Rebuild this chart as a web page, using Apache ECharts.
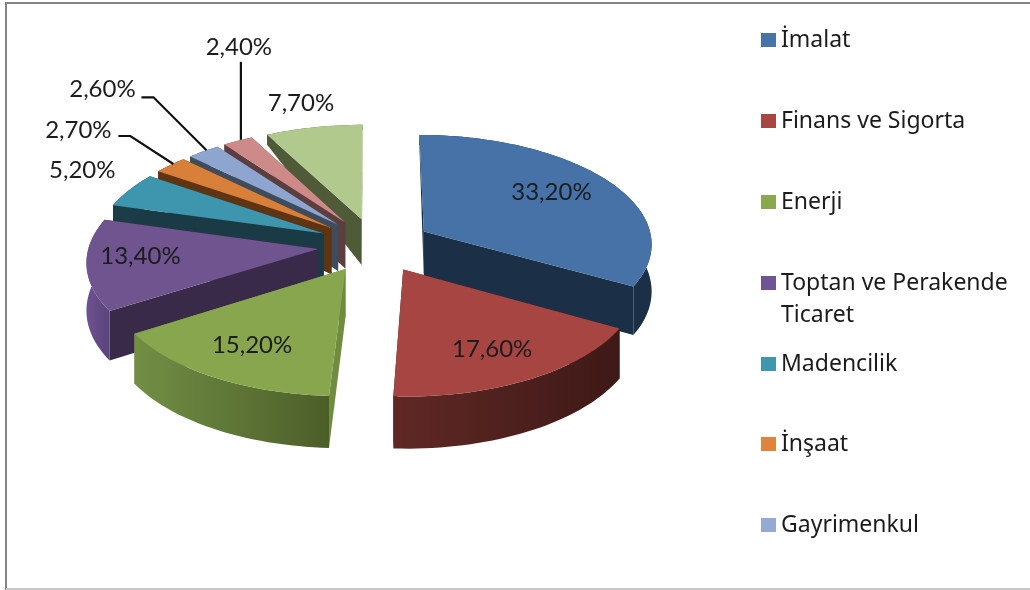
<!DOCTYPE html>
<html><head><meta charset="utf-8">
<style>html,body{margin:0;padding:0;background:#fff}#c{width:1030px;height:590px}</style>
<script src="https://cdn.jsdelivr.net/npm/echarts@6/dist/echarts.min.js"></script>
</head><body><div id="c"></div>
<script>
// ---- data ----
const categories = ['İmalat','Finans ve Sigorta','Enerji','Toptan ve Perakende Ticaret','Madencilik','İnşaat','Gayrimenkul','Diğer A','Diğer B'];
const values = [33.2,17.6,15.2,13.4,5.2,2.7,2.6,2.4,7.7];
const valueLabels = ['33,20%','17,60%','15,20%','13,40%','5,20%','2,70%','2,60%','2,40%','7,70%'];
const legendCount = 7;

// ---- styles ----
const topColors  = ['#4672A8','#A64542','#87A64D','#6F5490','#3E95AE','#D8803A','#8DA5CF','#CD8A89','#B2C98E'];
const keyColors  = ['#4674A9','#A94543','#8AA84E','#6F5495','#4096AF','#E0843C','#95A9D2','#CD8A89','#B2C98E'];
const faceColors = ['#1B2F47','#43191A','#6F8C40','#3A2A4A','#1A3B46','#5F3412','#3F4C5E','#5C3E3E','#4F5A38'];
const rimColors  = [['#1B2F47','#1B2F47'],['#602825','#3E1917'],['#728F45','#4C5E29'],['#6E5290','#59437A'],['#1C3D47','#1C3D47'],['#5F3412','#5F3412'],['#3F4C5E','#3F4C5E'],['#5C3E3E','#5C3E3E'],['#4F5A38','#4F5A38']];

// ---- label placement, relative to the outer rim point of each slice ----
const labelOffsets = [[-56,12],[-38,-30],[39,-32],[54,-9],[-47,-20],[-92,-35],[-101,-62],[1,-94],[-13,-24]];
const leaderOffsets = [null,null,null,null,null,[[-52,-29],[-40,-29]],[[-62,-54],[-50,-54]],[[3,-79]],null];

// ---- projection of the tilted pie ----
const CX=375, CY=245, A=229, B=108.9, K=0.1015, EXPLODE=0.25;
const LABEL_FONT='Lato', LEGEND_FONT='"Noto Sans"';
const total = values.reduce((s,v)=>s+v,0);
const spans = []; values.reduce((acc,v)=>{const a0=acc/total*2*Math.PI, a1=(acc+v)/total*2*Math.PI; spans.push([a0,a1,(a0+a1)/2]); return acc+v;},0);
function project(wx,wy){const s=1/(1-K*wy);return [CX+A*wx*s,CY+B*wy*s];}
function world(i,r,t){const m=spans[i][2];return [EXPLODE*Math.sin(m)+r*Math.sin(t),-(EXPLODE*Math.cos(m)+r*Math.cos(t))];}
function depth(wy){return wy>=-0.24?46+(wy+0.24)*4.2:46+(wy+0.24)*40.6;}
function topPt(i,r,t){const w=world(i,r,t);return project(w[0],w[1]);}
function botPt(i,r,t){const w=world(i,r,t);const p=project(w[0],w[1]);return [p[0],p[1]+depth(w[1])];}
function rimSamples(i){const [a,b]=spans[i];const n=Math.max(4,Math.ceil((b-a)/0.03));const o=[];for(let j=0;j<=n;j++)o.push(a+(b-a)*j/n);return o;}
function grad(c){return new echarts.graphic.LinearGradient(0,0,1,0,[{offset:0,color:c[0]},{offset:1,color:c[1]}]);}

function renderSlice(i){
  const [a,b,m]=spans[i];
  const ts=rimSamples(i);
  const kids=[];
  const face=t=>({type:'polygon',shape:{points:[topPt(i,0,0),topPt(i,1,t),botPt(i,1,t),botPt(i,0,0)]},style:{fill:faceColors[i]},z2:1});
  kids.push(face(a),face(b));
  const tp=ts.map(t=>topPt(i,1,t));
  const bt=ts.map(t=>botPt(i,1,t)).reverse();
  const rc=rimColors[i];
  kids.push({type:'polygon',shape:{points:tp.concat(bt)},style:{fill:grad(rc)},z2:2});
  kids.push({type:'polygon',shape:{points:[topPt(i,0,0)].concat(tp)},style:{fill:topColors[i]},z2:3});
  const rim=topPt(i,1,m);
  const lo=labelOffsets[i];
  kids.push({type:'text',x:rim[0]+lo[0],y:rim[1]+lo[1],z2:6,style:{text:valueLabels[i],fill:'#1C1C1C',font:'24px '+LABEL_FONT,align:'center',verticalAlign:'middle'}});
  if(leaderOffsets[i]){
    const pts=leaderOffsets[i].map(o=>[rim[0]+o[0],rim[1]+o[1]]).concat([[rim[0]+3,rim[1]-1]]);
    kids.push({type:'polyline',shape:{points:pts},style:{stroke:'#111',lineWidth:2.2,fill:null},z2:5});
  }
  return {type:'group',children:kids};
}
const depthRank = values.map((_,i)=>i).sort((p,q)=>Math.cos(spans[q][2])-Math.cos(spans[p][2]));
const series = categories.map((name,i)=>({
  type:'custom',name,coordinateSystem:'none',silent:true,animation:false,clip:false,
  z:5+depthRank.indexOf(i),
  itemStyle:{color:keyColors[i]},
  data:[[values[i]]],
  renderItem:()=>renderSlice(i)
}));
const legendTops=[40,121,202,283,364,444,525];
const legendText={'Toptan ve Perakende Ticaret':'\nToptan ve Perakende\nTicaret'};
const legend = categories.slice(0,legendCount).map((name,i)=>{
  const wrapped=!!legendText[name];
  return {show:true,data:[name],orient:'vertical',left:761,top:legendTops[i]-(wrapped?48:16),padding:0,itemWidth:15,itemHeight:14,icon:'rect',selectedMode:false,
    formatter:n=>legendText[n]||n,
    textStyle:{fontFamily:LEGEND_FONT,fontSize:23,color:'#1C1C1C',lineHeight:32}};
});
const chart=echarts.init(document.getElementById('c'),null,{renderer:'canvas'});
chart.setOption({
  animation:false,backgroundColor:'#fff',
  legend,series,
  graphic:[
    {type:'line',shape:{x1:5,y1:3,x2:1030,y2:3},style:{stroke:'#848484',lineWidth:2},z:1},
    {type:'line',shape:{x1:6,y1:3,x2:6,y2:590},style:{stroke:'#848484',lineWidth:2},z:1},
    {type:'line',shape:{x1:6,y1:589,x2:1030,y2:589},style:{stroke:'#C8C8C8',lineWidth:2},z:1}
  ]
});
</script></body></html>
